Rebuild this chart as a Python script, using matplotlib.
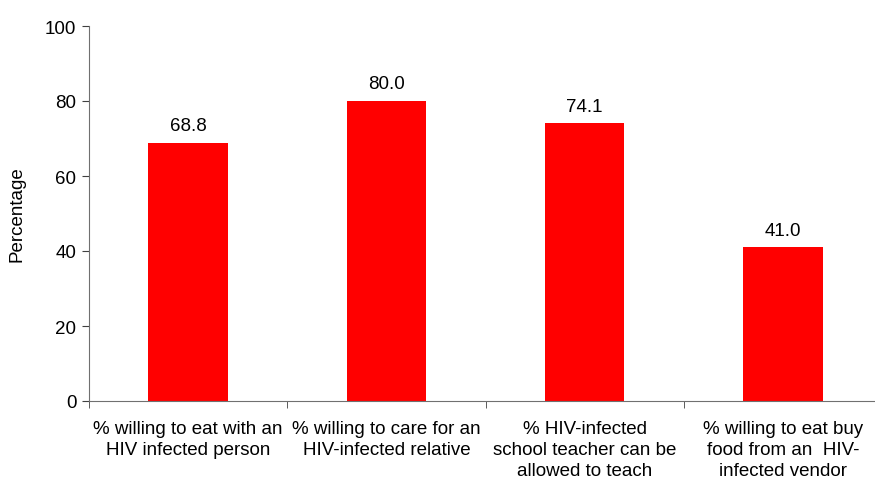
import numpy as np
import matplotlib.pyplot as plt

plt.rcParams['font.family'] = ['Liberation Sans', 'DejaVu Sans']

categories = ['% willing to eat with an\nHIV infected person',
              '% willing to care for an\nHIV-infected relative',
              '% HIV-infected\nschool teacher can be\nallowed to teach',
              '% willing to eat buy\nfood from an  HIV-\ninfected vendor']
values = [68.8, 80.0, 74.1, 41.0]

fs = 13.5
fig = plt.figure(figsize=(8.75, 4.85), dpi=100)
ax = fig.add_axes([89/875, 83/485, 793/875, 375/485])

x = np.arange(len(values))
ax.bar(x, values, width=0.4, color='#ff0000')
for xi, v in zip(x, values):
    ax.text(xi, v + 2.3, '%.1f' % v, ha='center', va='bottom', fontsize=fs)

ax.set_xlim(-0.5, len(values) - 0.5)
ax.set_ylim(0, 100)
ax.set_yticks(range(0, 101, 20))
ax.set_xticks(x)
ax.set_xticklabels(categories, fontsize=fs, linespacing=1.3)
ax.set_xticks(np.arange(-0.5, len(values), 1), minor=True)
ax.tick_params(axis='x', which='major', length=0, pad=14)
ax.tick_params(axis='x', which='minor', length=5, direction='out', color='#404040')
ax.tick_params(axis='y', length=5, color='#404040', labelsize=fs, pad=4)
ax.set_ylabel('Percentage', fontsize=fs, labelpad=14)

for s in ['top', 'right']:
    ax.spines[s].set_visible(False)
for s in ['left', 'bottom']:
    ax.spines[s].set_color('#707070')

fig.savefig('out.png', dpi=100)
